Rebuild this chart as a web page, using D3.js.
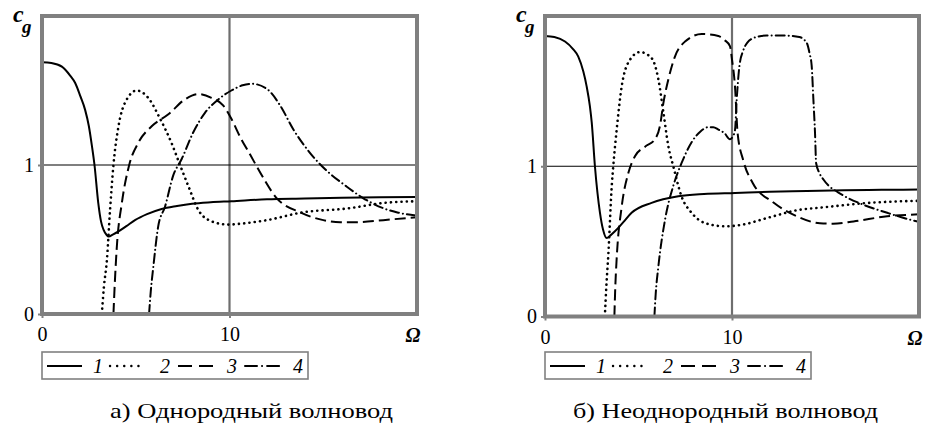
<!DOCTYPE html>
<html><head><meta charset="utf-8">
<script src="https://cdn.jsdelivr.net/npm/d3@7/dist/d3.min.js"></script>
<style>
body{margin:0;background:#fff;}
svg{display:block;}
</style></head>
<body>
<svg id="chart" width="929" height="423"></svg>
<script>
// ---- data ----
const xTicks = [0, 10];
const yTicks = [0, 1];
const legendLabels = ["1", "2", "3", "4"];
const captions = ["а) Однородный волновод", "б) Неоднородный волновод"];

// Panel a (homogeneous waveguide): [Ω, c_g]
const homo1 = [[0,1.69],[0.5,1.685],[1.06,1.66],[1.5,1.6],[1.77,1.55],[2.05,1.46],[2.3,1.37],[2.5,1.26],[2.66,1.13],[2.8,1.0],[3.0,0.746],[3.15,0.62],[3.28,0.566],[3.45,0.53],[3.55,0.52],[3.8,0.535],[4.08,0.555],[4.5,0.59],[4.96,0.63],[5.6,0.67],[6.38,0.705],[7.2,0.725],[8.0,0.74],[9,0.75],[10.1,0.757],[12,0.77],[14,0.775],[16,0.78],[18,0.783],[20,0.785]];
const homo2 = [[3.19,0],[3.3,0.18],[3.46,0.36],[3.63,0.70],[3.81,1.0],[4.08,1.26],[4.52,1.44],[5.05,1.5],[5.67,1.45],[6.3,1.31],[6.9,1.15],[7.36,1.0],[7.8,0.86],[8.33,0.70],[9.04,0.622],[9.93,0.6],[10.5,0.605],[12,0.63],[13.8,0.68],[16.4,0.71],[18.2,0.745],[20,0.757]];
const homo3 = [[3.81,0],[3.88,0.2],[3.99,0.45],[4.26,0.746],[4.65,1.0],[5.14,1.15],[5.85,1.26],[6.74,1.34],[7.62,1.44],[8.33,1.476],[9.04,1.45],[9.66,1.4],[10.1,1.31],[10.6,1.18],[11.1,1.07],[11.5,0.98],[12.5,0.78],[13.8,0.68],[15,0.63],[15.9,0.615],[17,0.617],[18.2,0.63],[20,0.65]];
const homo4 = [[5.71,0],[5.8,0.15],[5.94,0.32],[6.2,0.59],[6.56,0.72],[7.0,0.93],[7.45,1.04],[8.07,1.22],[8.69,1.35],[9.4,1.44],[10.1,1.5],[10.7,1.535],[11.2,1.545],[12.0,1.51],[12.7,1.40],[13.4,1.24],[14.3,1.08],[15.2,0.96],[16.2,0.86],[17.1,0.78],[18.2,0.71],[19,0.68],[20,0.66]];

// Panel b (inhomogeneous waveguide): [Ω, c_g]
const inhomo1 = [[0,1.867],[0.5,1.86],[1.07,1.83],[1.5,1.78],[1.78,1.73],[2.05,1.63],[2.23,1.53],[2.4,1.4],[2.5,1.29],[2.67,1.0],[2.94,0.69],[3.1,0.58],[3.3,0.522],[3.5,0.54],[3.74,0.567],[4.2,0.63],[4.63,0.69],[5.7,0.756],[7.13,0.8],[8.5,0.815],[10.16,0.822],[12,0.83],[14,0.835],[16,0.84],[18,0.843],[20,0.845]];
const inhomo2 = [[3.2,0],[3.28,0.2],[3.39,0.42],[3.57,0.87],[3.65,1.0],[3.83,1.24],[4.1,1.53],[4.55,1.71],[5.08,1.76],[5.7,1.72],[6.06,1.58],[6.33,1.36],[6.6,1.13],[6.86,1.0],[7.3,0.80],[7.84,0.69],[8.56,0.622],[9.63,0.6],[10.5,0.61],[12,0.66],[13.6,0.71],[14.7,0.724],[17.4,0.757],[20,0.77]];
const inhomo3 = [[3.71,0],[3.76,0.2],[3.83,0.38],[4.1,0.73],[4.46,0.956],[4.81,1.067],[5.35,1.13],[5.88,1.18],[6.15,1.27],[6.33,1.42],[6.6,1.58],[6.95,1.73],[7.49,1.83],[8.38,1.88],[9.27,1.867],[9.6,1.84],[9.89,1.8],[10.0,1.71],[10.16,1.53],[10.3,1.22],[10.6,1.04],[11.1,0.89],[12.2,0.76],[13.6,0.66],[14.7,0.62],[15.4,0.618],[16.5,0.633],[18.3,0.667],[20,0.68]];
const inhomo4 = [[5.85,0],[5.92,0.15],[6.06,0.33],[6.42,0.645],[6.86,0.87],[7.3,1.02],[7.84,1.16],[8.3,1.23],[8.73,1.26],[9.0,1.26],[9.27,1.244],[9.6,1.22],[9.89,1.18],[10.05,1.2],[10.16,1.24],[10.25,1.44],[10.4,1.67],[10.6,1.77],[10.8,1.82],[11.3,1.86],[11.85,1.87],[12.8,1.87],[13.6,1.86],[14.0,1.82],[14.15,1.75],[14.26,1.67],[14.35,1.45],[14.44,1.22],[14.5,1.02],[14.67,0.956],[14.9,0.91],[15.9,0.81],[17.0,0.745],[18.3,0.69],[19.5,0.645],[20,0.63]];

// ---- styles ----
const FONT = "'Times New Roman', Times, 'Liberation Serif', 'Noto Serif', 'DejaVu Serif', serif";
const styles = [
  {dash: null, width: 2, cap: "butt"},
  {dash: "0.1 5.2", width: 2.6, cap: "round"},
  {dash: "11 5", width: 2, cap: "butt"},
  {dash: "9 4 0.1 4", width: 2, cap: "round"}
];
const legendDash = [null, "0.1 7", "14 7", "12 5 0.1 5 12"];

const svg = d3.select("#chart").attr("font-family", FONT);
const FRAME = "#808080";

function txt(sel) { return sel.attr("font-family", FONT).attr("fill", "#000"); }

function drawPanel(p, idx) {
  const x = d3.scaleLinear().domain([0, 20]).range([p.left, p.right]);
  const y = d3.scaleLinear().domain([0, 2]).range([p.bottom, p.top]);
  const g = svg.append("g");
  const clipId = "clip" + idx;
  svg.append("defs").append("clipPath").attr("id", clipId)
    .append("rect").attr("x", p.left).attr("y", p.top)
    .attr("width", p.right - p.left).attr("height", p.bottom - p.top);

  g.append("line").attr("x1", x(10)).attr("x2", x(10)).attr("y1", y(0)).attr("y2", y(2))
    .attr("stroke", "#6e6e6e").attr("stroke-width", 2.2);
  g.append("line").attr("x1", x(0)).attr("x2", x(20)).attr("y1", y(1)).attr("y2", y(1))
    .attr("stroke", "#000").attr("stroke-width", 1.1);

  const line = d3.line().x(d => x(d[0])).y(d => y(d[1])).curve(d3.curveMonotoneX);
  const cg = g.append("g").attr("clip-path", `url(#${clipId})`);
  p.series.forEach((s, i) => {
    const st = styles[i];
    cg.append("path").datum(s).attr("d", line)
      .attr("fill", "none").attr("stroke", "#000")
      .attr("stroke-width", st.width).attr("stroke-linecap", st.cap)
      .attr("stroke-dasharray", st.dash);
  });

  g.append("rect").attr("x", p.left).attr("y", p.top)
    .attr("width", p.right - p.left).attr("height", p.bottom - p.top)
    .attr("fill", "none").attr("stroke", FRAME).attr("stroke-width", 4);

  const xa = g.append("g").attr("transform", `translate(0,${p.bottom})`)
    .call(d3.axisBottom(x).tickValues(xTicks).tickSize(4).tickPadding(9).tickFormat(d3.format("d")));
  xa.attr("font-family", FONT).attr("font-size", 20);
  xa.select(".domain").remove();
  xa.selectAll(".tick line").attr("stroke", FRAME).attr("stroke-width", 2);
  txt(xa.selectAll("text"));

  const ya = g.append("g").attr("transform", `translate(${p.left},0)`)
    .call(d3.axisLeft(y).tickValues(yTicks).tickSize(4).tickPadding(4).tickFormat(d3.format("d")));
  ya.attr("font-family", FONT).attr("font-size", 20);
  ya.select(".domain").remove();
  ya.selectAll(".tick line").attr("stroke", FRAME).attr("stroke-width", 2);
  txt(ya.selectAll("text"));

  txt(g.append("text")).attr("x", p.right - 4).attr("y", p.bottom + 28)
    .attr("text-anchor", "middle").attr("font-size", 20)
    .attr("font-weight", "bold").attr("font-style", "italic").text("Ω");
  txt(g.append("text")).attr("x", p.left - 29).attr("y", p.top + 6)
    .attr("font-size", 24).attr("font-weight", "bold").attr("font-style", "italic").text("c");
  txt(g.append("text")).attr("x", p.left - 20).attr("y", p.top + 17)
    .attr("font-size", 19).attr("font-weight", "bold").attr("font-style", "italic").text("g");

  const lg = g.append("g").attr("transform", `translate(${p.left},352)`);
  lg.append("rect").attr("x", 0).attr("y", 0).attr("width", 266).attr("height", 27)
    .attr("fill", "#fff").attr("stroke", FRAME).attr("stroke-width", 1.6);
  const lineX = [5, 68, 136, 203];
  const numX = [51, 118, 185, 251];
  legendLabels.forEach((lab, i) => {
    lg.append("line").attr("x1", lineX[i]).attr("x2", lineX[i] + 35)
      .attr("y1", 14).attr("y2", 14).attr("stroke", "#000")
      .attr("stroke-width", i === 1 ? 2.4 : 2).attr("stroke-linecap", i === 1 || i === 3 ? "round" : "butt")
      .attr("stroke-dasharray", legendDash[i]);
    txt(lg.append("text")).attr("x", numX[i]).attr("y", 21)
      .attr("font-size", 20).attr("font-style", "italic").text(lab);
  });

  txt(g.append("text")).attr("x", p.capX).attr("y", 418).attr("text-anchor", "middle")
    .attr("font-size", 21).attr("textLength", p.capW).attr("lengthAdjust", "spacingAndGlyphs")
    .text(p.caption);
}

drawPanel({left: 42, right: 417, top: 16, bottom: 314, series: [homo1, homo2, homo3, homo4],
  caption: captions[0], capX: 251.5, capW: 283}, 0);
drawPanel({left: 545, right: 919, top: 16, bottom: 316.5, series: [inhomo1, inhomo2, inhomo3, inhomo4],
  caption: captions[1], capX: 725.5, capW: 305}, 1);
</script>
</body></html>
